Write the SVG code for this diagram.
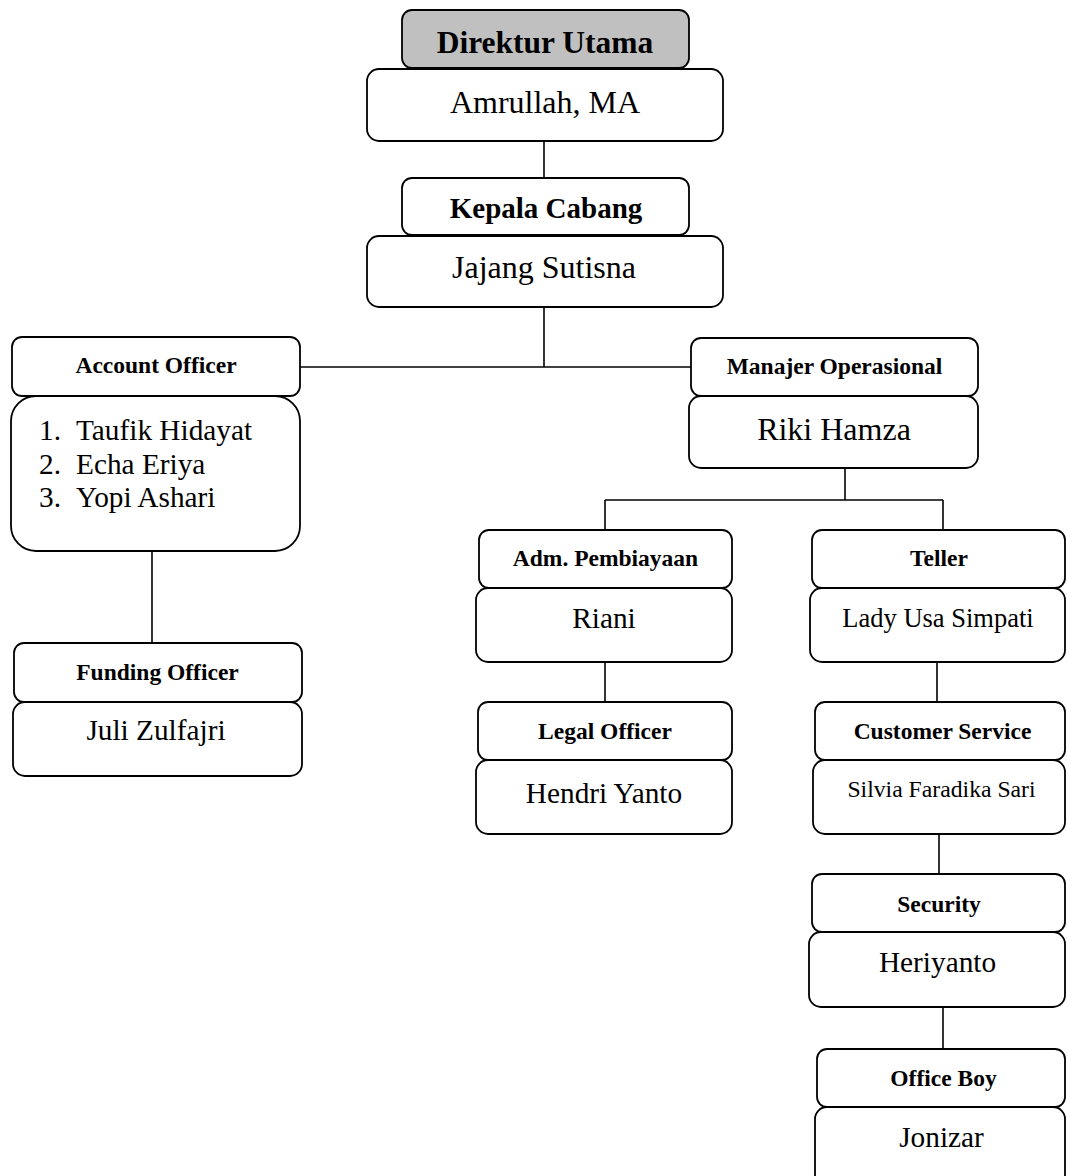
<svg xmlns="http://www.w3.org/2000/svg" width="1067" height="1176" viewBox="0 0 1067 1176">
<style>
.b{fill:#fff;stroke:#000;stroke-width:1.8}
.g{fill:#c0c0c0;stroke:#000;stroke-width:1.8}
.h{font-family:"Liberation Serif",serif;font-weight:bold;font-size:23.5px;text-anchor:middle;fill:#000}
.n{font-family:"Liberation Serif",serif;font-size:29.3px;text-anchor:middle;fill:#000}
.L{font-family:"Liberation Serif",serif;font-size:32px;text-anchor:middle;fill:#000}
.c line{stroke:#000;stroke-width:1.6}
</style>
<rect width="1067" height="1176" fill="#fff"/>
<g class="c" id="connectors">
<line x1="544" y1="141" x2="544" y2="178"/>
<line x1="544" y1="307" x2="544" y2="367"/>
<line x1="300" y1="367" x2="691" y2="367"/>
<line x1="152" y1="551" x2="152" y2="643"/>
<line x1="845" y1="468" x2="845" y2="500"/>
<line x1="605" y1="500" x2="943" y2="500"/>
<line x1="605" y1="500" x2="605" y2="530"/>
<line x1="943" y1="500" x2="943" y2="530"/>
<line x1="605" y1="662" x2="605" y2="702"/>
<line x1="937" y1="662" x2="937" y2="702"/>
<line x1="939" y1="834" x2="939" y2="874"/>
<line x1="943" y1="1007" x2="943" y2="1049"/>
</g>
<g id="direktur">
<rect class="g" x="402" y="10" width="287" height="58" rx="10"/>
<text class="h" x="545" y="53" style="font-size:31.5px">Direktur Utama</text>
<rect class="b" x="367" y="69" width="356" height="72" rx="12"/>
<text class="L" x="545" y="113">Amrullah, MA</text>
</g>
<g id="kepala">
<rect class="b" x="402" y="178" width="287" height="57" rx="10"/>
<text class="h" x="546" y="218" style="font-size:29px">Kepala Cabang</text>
<rect class="b" x="367" y="236" width="356" height="71" rx="12"/>
<text class="L" x="544" y="278">Jajang Sutisna</text>
</g>
<g id="account">
<rect class="b" x="12" y="337" width="288" height="59" rx="10"/>
<text class="h" x="156" y="373">Account Officer</text>
<rect class="b" x="11" y="396" width="289" height="155" rx="25"/>
<text class="n" x="39" y="440" style="text-anchor:start">1.</text>
<text class="n" x="76" y="440" style="text-anchor:start">Taufik Hidayat</text>
<text class="n" x="39" y="474" style="text-anchor:start">2.</text>
<text class="n" x="76" y="474" style="text-anchor:start">Echa Eriya</text>
<text class="n" x="39" y="507" style="text-anchor:start">3.</text>
<text class="n" x="76" y="507" style="text-anchor:start">Yopi Ashari</text>
</g>
<g id="funding">
<rect class="b" x="14" y="643" width="288" height="59" rx="10"/>
<text class="h" x="157.5" y="680">Funding Officer</text>
<rect class="b" x="13" y="702" width="289" height="74" rx="12"/>
<text class="n" x="156" y="740">Juli Zulfajri</text>
</g>
<g id="manajer">
<rect class="b" x="691" y="338" width="287" height="58" rx="10"/>
<text class="h" x="834.5" y="374">Manajer Operasional</text>
<rect class="b" x="689" y="396" width="289" height="72" rx="12"/>
<text class="L" x="834" y="440">Riki Hamza</text>
</g>
<g id="adm">
<rect class="b" x="479" y="530" width="253" height="58" rx="10"/>
<text class="h" x="605.5" y="566">Adm. Pembiayaan</text>
<rect class="b" x="476" y="588" width="256" height="74" rx="12"/>
<text class="n" x="604" y="628">Riani</text>
</g>
<g id="legal">
<rect class="b" x="478" y="702" width="254" height="58" rx="10"/>
<text class="h" x="605" y="739">Legal Officer</text>
<rect class="b" x="476" y="760" width="256" height="74" rx="12"/>
<text class="n" x="604" y="803">Hendri Yanto</text>
</g>
<g id="teller">
<rect class="b" x="812" y="530" width="253" height="58" rx="10"/>
<text class="h" x="939" y="566">Teller</text>
<rect class="b" x="810" y="588" width="255" height="74" rx="12"/>
<text class="n" x="938" y="627" style="font-size:26.5px">Lady Usa Simpati</text>
</g>
<g id="cs">
<rect class="b" x="815" y="702" width="250" height="58" rx="10"/>
<text class="h" x="942.5" y="739">Customer Service</text>
<rect class="b" x="813" y="760" width="252" height="74" rx="12"/>
<text class="n" x="941.5" y="797" style="font-size:23.7px">Silvia Faradika Sari</text>
</g>
<g id="security">
<rect class="b" x="812" y="874" width="253" height="58" rx="10"/>
<text class="h" x="939" y="912">Security</text>
<rect class="b" x="809" y="932" width="256" height="75" rx="12"/>
<text class="n" x="937.5" y="972">Heriyanto</text>
</g>
<g id="officeboy">
<rect class="b" x="817" y="1049" width="248" height="58" rx="10"/>
<text class="h" x="943.5" y="1086">Office Boy</text>
<rect class="b" x="815" y="1107" width="250" height="80" rx="12"/>
<text class="n" x="941.5" y="1147">Jonizar</text>
</g>
</svg>
